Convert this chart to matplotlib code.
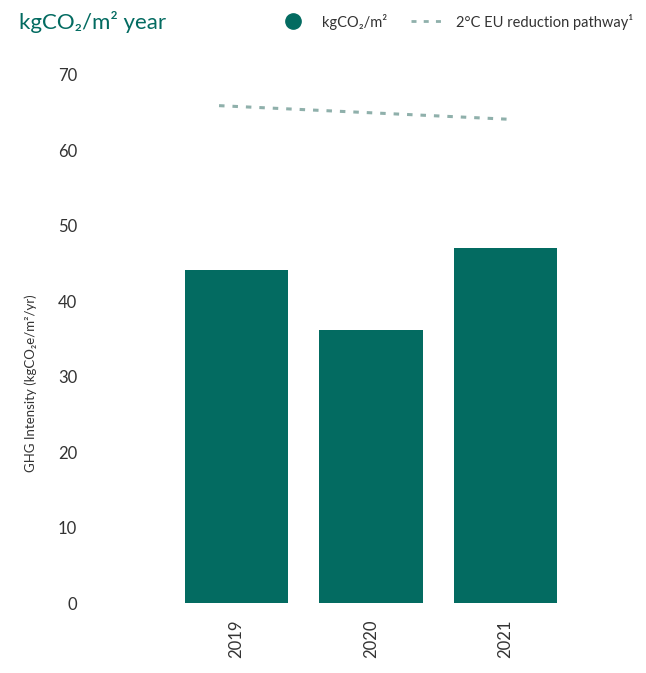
import matplotlib
matplotlib.use("Agg")
import matplotlib.pyplot as plt
from matplotlib.lines import Line2D

plt.rcParams['font.family'] = ['Lato', 'DejaVu Sans']

years = ["2019", "2020", "2021"]
intensity = [44.1, 36.2, 47.1]
pathway = [65.9, 64.1]

teal = "#036b61"
path_col = "#8fb0ab"
text_col = "#333333"

fig = plt.figure(figsize=(6.46, 6.73), dpi=100)
ax = fig.add_axes([0.158, 0.104, 0.77, 0.785])

x = range(len(years))
ax.bar(x, intensity, width=0.77, color=teal)
ax.plot([-0.13, 2.02], pathway, color=path_col, linestyle=(0, (1.8, 2.6)), linewidth=2.2)

ax.set_xlim(-1.0, 2.7)
ax.set_ylim(0, 70)
ax.set_yticks(range(0, 71, 10))
ax.set_xticks(list(x))
ax.set_xticklabels(years, rotation=90, fontsize=12, color=text_col)
ax.tick_params(axis="y", labelsize=12, labelcolor=text_col, length=0, pad=18)
ax.tick_params(axis="x", length=0, pad=12)
for s in ax.spines.values():
    s.set_visible(False)

fig.text(0.047, 0.43, "GHG Intensity (kgCO₂e/m²/yr)", rotation=90, fontsize=9.5,
         color=text_col, ha="center", va="center")

fig.text(0.03, 0.968, "kgCO₂/m² year", fontsize=16, color=teal, va="center")

handles = [Line2D([], [], marker="o", color="none", markerfacecolor=teal,
                  markeredgecolor=teal, markersize=11),
           Line2D([], [], color=path_col, linestyle=(0, (1.8, 2.6)), linewidth=2)]
fig.legend(handles, ["kgCO₂/m²", "2°C EU reduction pathway¹"], loc="center right",
           bbox_to_anchor=(1.0, 0.968), ncol=2, frameon=False, fontsize=10.5,
           labelcolor=text_col, handlelength=2.2, columnspacing=1.6, handletextpad=0.9)

fig.savefig("out.png", dpi=100)
